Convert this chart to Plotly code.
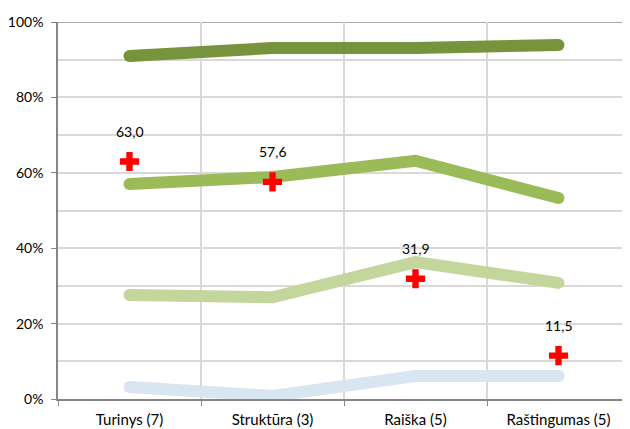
import plotly.graph_objects as go

categories = ["Turinys (7)", "Struktūra (3)", "Raiška (5)", "Raštingumas (5)"]
series_blue = [3.2, 0.8, 6.1, 6.1]
series_light = [27.6, 27.0, 36.3, 30.8]
series_mid = [57.0, 58.9, 63.2, 53.3]
series_dark = [91.0, 93.1, 93.1, 93.9]
cross_values = [63.0, 57.6, 31.9, 11.5]
cross_labels = ["63,0", "57,6", "31,9", "11,5"]
y_ticks = [0, 20, 40, 60, 80, 100]
y_tick_labels = ["0%", "20%", "40%", "60%", "80%", "100%"]

FONT = "Lato, Carlito, sans-serif"

fig = go.Figure()
for vals, col in [(series_blue, "#DAE5F2"), (series_light, "#C3D69B"),
                  (series_mid, "#9BBB59"), (series_dark, "#77933C")]:
    fig.add_trace(go.Scatter(
        x=categories, y=vals, mode="lines+markers",
        line=dict(color=col, width=12),
        marker=dict(color=col, size=12, symbol="circle", line=dict(width=0)),
        showlegend=False, hoverinfo="skip"))

fig.add_trace(go.Scatter(
    x=categories, y=cross_values, mode="markers",
    marker=dict(symbol="cross", color="#FF0000", size=16, line=dict(width=0)),
    showlegend=False, hoverinfo="skip"))

for c, v, t in zip(categories, cross_values, cross_labels):
    fig.add_annotation(x=c, y=v, text=t, showarrow=False, yshift=30,
                       font=dict(family=FONT, size=14, color="#000000"))

fig.add_shape(type="line", xref="paper", yref="y", x0=0, x1=1, y0=100, y1=100,
              line=dict(color="#8C8C8C", width=1.5), layer="below")

fig.update_layout(
    width=622, height=421,
    margin=dict(l=50, r=0, t=14, b=30, autoexpand=False),
    paper_bgcolor="white", plot_bgcolor="white",
    font=dict(family=FONT, size=14, color="#000000"),
    xaxis=dict(type="category", range=[-0.5, 3.5], tickson="boundaries",
               automargin=False, tickfont=dict(size=15), ticklabelstandoff=6,
               showgrid=True, gridcolor="#D9D9D9", gridwidth=1.5,
               showline=True, linecolor="#868686", linewidth=1.5,
               ticks="outside", ticklen=5, tickcolor="#868686", tickwidth=1,
               zeroline=False, fixedrange=True),
    yaxis=dict(range=[0, 100], tickvals=y_ticks, ticktext=y_tick_labels,
               automargin=False, tickfont=dict(size=14), ticklabelstandoff=5,
               showgrid=True, gridcolor="#D9D9D9", gridwidth=1.5,
               minor=dict(dtick=10, showgrid=True, gridcolor="#D9D9D9", gridwidth=1.5),
               showline=True, linecolor="#868686", linewidth=1.5,
               ticks="outside", ticklen=5, tickcolor="#868686", tickwidth=1,
               zeroline=False, fixedrange=True),
)

fig.write_html("out.html")
